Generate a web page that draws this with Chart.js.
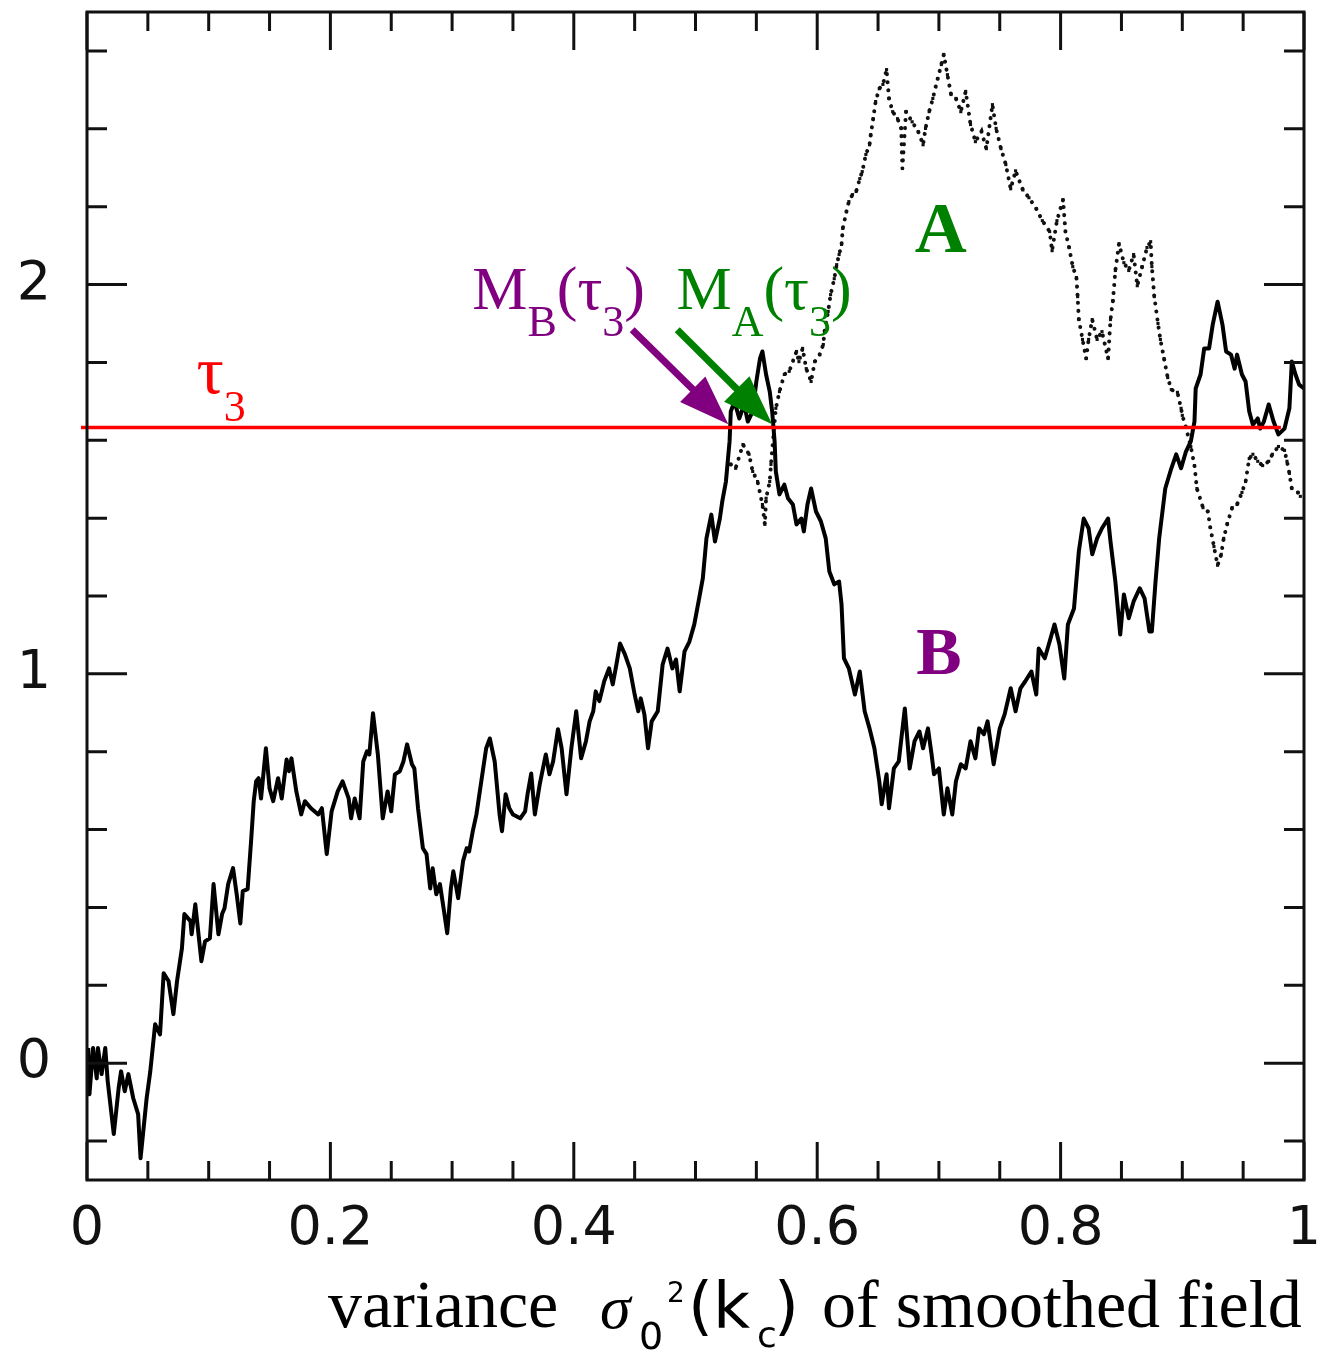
<!DOCTYPE html>
<html>
<head>
<meta charset="utf-8">
<script src="https://cdn.jsdelivr.net/npm/chart.js@4.4.1/dist/chart.umd.min.js"></script>
<style>
  html, body { margin: 0; padding: 0; background: #fff; }
</style>
</head>
<body>
<canvas id="chart" width="1334" height="1351"></canvas>
<script>
// trajectory B (solid) as [variance, value]
const seriesB = [
  [0.001,0.039],[0.002,-0.080],[0.005,0.039],[0.008,-0.039],[0.009,0.039],[0.012,-0.028],[0.015,0.039],
  [0.017,-0.046],[0.022,-0.182],[0.026,-0.064],[0.028,-0.021],[0.031,-0.072],[0.034,-0.028],[0.038,-0.090],
  [0.042,-0.131],[0.044,-0.244],[0.049,-0.090],[0.052,-0.021],[0.056,0.100],[0.060,0.074],[0.063,0.231],
  [0.067,0.211],[0.071,0.126],[0.074,0.211],[0.078,0.295],[0.080,0.383],[0.085,0.365],[0.086,0.331],
  [0.089,0.408],[0.094,0.262],[0.097,0.313],[0.101,0.321],[0.104,0.460],[0.108,0.331],[0.111,0.383],
  [0.113,0.398],[0.116,0.460],[0.120,0.501],[0.123,0.434],[0.126,0.359],[0.128,0.442],[0.132,0.447],
  [0.135,0.578],[0.137,0.673],[0.139,0.724],[0.141,0.732],[0.143,0.680],[0.147,0.809],[0.150,0.706],
  [0.153,0.673],[0.157,0.732],[0.160,0.680],[0.164,0.780],[0.166,0.750],[0.168,0.783],[0.172,0.698],
  [0.176,0.639],[0.179,0.673],[0.184,0.655],[0.190,0.639],[0.193,0.655],[0.197,0.537],[0.201,0.647],
  [0.206,0.698],[0.210,0.724],[0.215,0.680],[0.217,0.629],[0.220,0.680],[0.224,0.629],[0.227,0.775],
  [0.230,0.801],[0.232,0.793],[0.235,0.899],[0.239,0.793],[0.243,0.629],[0.247,0.698],[0.250,0.647],
  [0.253,0.742],[0.257,0.750],[0.260,0.775],[0.263,0.819],[0.267,0.768],[0.269,0.757],[0.272,0.655],
  [0.276,0.552],[0.279,0.537],[0.282,0.449],[0.284,0.501],[0.287,0.434],[0.290,0.460],[0.293,0.398],
  [0.296,0.334],[0.299,0.449],[0.301,0.493],[0.305,0.424],[0.309,0.519],[0.312,0.552],[0.314,0.544],
  [0.317,0.596],[0.320,0.639],[0.324,0.724],[0.328,0.809],[0.331,0.834],[0.335,0.775],[0.339,0.639],
  [0.341,0.596],[0.344,0.691],[0.347,0.655],[0.350,0.639],[0.356,0.629],[0.360,0.647],[0.362,0.691],
  [0.365,0.744],[0.368,0.639],[0.372,0.716],[0.377,0.793],[0.380,0.742],[0.383,0.775],[0.387,0.858],
  [0.390,0.809],[0.394,0.691],[0.398,0.809],[0.402,0.904],[0.406,0.783],[0.410,0.827],[0.413,0.878],
  [0.416,0.904],[0.418,0.955],[0.421,0.930],[0.425,0.981],[0.429,1.014],[0.432,0.973],[0.435,1.024],
  [0.438,1.078],[0.442,1.050],[0.446,1.014],[0.450,0.947],[0.453,0.904],[0.455,0.937],[0.458,0.896],
  [0.461,0.809],[0.464,0.878],[0.469,0.904],[0.473,1.024],[0.477,1.065],[0.481,1.014],[0.484,1.037],
  [0.487,0.955],[0.491,1.058],[0.495,1.083],[0.499,1.127],[0.503,1.194],[0.506,1.245],[0.509,1.348],
  [0.513,1.409],[0.516,1.340],[0.520,1.399],[0.522,1.443],[0.525,1.494],[0.528,1.597],[0.529,1.674],
  [0.532,1.700],[0.536,1.656],[0.540,1.692],[0.543,1.648],[0.547,1.674],[0.550,1.751],[0.553,1.810],
  [0.555,1.828],[0.558,1.769],[0.561,1.725],[0.563,1.674],[0.565,1.597],[0.566,1.520],[0.569,1.461],
  [0.573,1.486],[0.576,1.451],[0.580,1.435],[0.583,1.384],[0.587,1.399],[0.589,1.366],[0.592,1.435],
  [0.595,1.476],[0.599,1.417],[0.603,1.392],[0.607,1.348],[0.610,1.263],[0.614,1.230],[0.618,1.237],
  [0.620,1.178],[0.622,1.040],[0.626,1.014],[0.631,0.947],[0.635,1.006],[0.639,0.904],[0.643,0.860],
  [0.647,0.809],[0.651,0.724],[0.653,0.665],[0.657,0.742],[0.659,0.655],[0.663,0.757],[0.667,0.775],
  [0.672,0.911],[0.676,0.757],[0.680,0.827],[0.684,0.852],[0.687,0.809],[0.691,0.860],[0.694,0.793],
  [0.696,0.742],[0.700,0.757],[0.704,0.639],[0.707,0.706],[0.711,0.639],[0.714,0.724],[0.718,0.768],
  [0.722,0.757],[0.726,0.827],[0.730,0.783],[0.733,0.860],[0.737,0.845],[0.740,0.878],[0.745,0.768],
  [0.750,0.860],[0.754,0.896],[0.759,0.963],[0.763,0.904],[0.767,0.963],[0.771,0.981],[0.776,1.006],
  [0.780,0.947],[0.782,1.065],[0.787,1.040],[0.791,1.083],[0.795,1.127],[0.799,1.076],[0.803,0.988],
  [0.806,1.127],[0.811,1.168],[0.815,1.315],[0.819,1.399],[0.823,1.374],[0.826,1.307],[0.830,1.348],
  [0.834,1.374],[0.839,1.399],[0.841,1.340],[0.845,1.237],[0.849,1.101],[0.852,1.204],[0.856,1.143],
  [0.860,1.186],[0.865,1.220],[0.869,1.194],[0.873,1.109],[0.875,1.109],[0.878,1.237],[0.881,1.348],
  [0.886,1.476],[0.891,1.528],[0.895,1.564],[0.899,1.528],[0.903,1.571],[0.907,1.597],[0.910,1.648],
  [0.911,1.733],[0.915,1.769],[0.918,1.836],[0.922,1.836],[0.925,1.897],[0.929,1.956],[0.933,1.897],
  [0.936,1.828],[0.940,1.820],[0.943,1.784],[0.945,1.820],[0.949,1.769],[0.952,1.751],[0.955,1.674],
  [0.958,1.640],[0.962,1.656],[0.964,1.630],[0.967,1.648],[0.971,1.692],[0.975,1.648],[0.979,1.615],
  [0.984,1.630],[0.988,1.682],[0.990,1.802],[0.993,1.769],[0.996,1.743],[1.000,1.733]
];

// trajectory A (dotted), splits off from B near 0.53
const seriesA = [
  [0.529,1.538],[0.533,1.528],[0.539,1.589],[0.544,1.564],[0.547,1.520],[0.551,1.494],[0.555,1.435],
  [0.557,1.384],[0.558,1.451],[0.561,1.494],[0.562,1.538],[0.566,1.682],[0.569,1.725],[0.573,1.769],
  [0.577,1.777],[0.583,1.828],[0.585,1.802],[0.588,1.836],[0.591,1.784],[0.595,1.751],[0.598,1.802],
  [0.602,1.820],[0.605,1.846],[0.606,1.879],[0.609,1.931],[0.611,1.974],[0.614,2.015],[0.616,2.051],
  [0.618,2.077],[0.620,2.103],[0.621,2.144],[0.624,2.187],[0.626,2.213],[0.629,2.231],[0.632,2.239],
  [0.635,2.272],[0.637,2.290],[0.640,2.334],[0.643,2.359],[0.644,2.385],[0.646,2.426],[0.648,2.470],
  [0.651,2.503],[0.654,2.514],[0.657,2.552],[0.659,2.478],[0.662,2.444],[0.666,2.426],[0.669,2.401],
  [0.670,2.298],[0.673,2.444],[0.678,2.418],[0.683,2.393],[0.687,2.359],[0.689,2.401],[0.692,2.444],
  [0.695,2.478],[0.699,2.529],[0.702,2.565],[0.704,2.591],[0.707,2.539],[0.710,2.488],[0.714,2.478],
  [0.718,2.444],[0.722,2.496],[0.726,2.411],[0.730,2.367],[0.735,2.393],[0.739,2.349],[0.744,2.462],
  [0.747,2.401],[0.751,2.349],[0.755,2.308],[0.759,2.246],[0.763,2.292],[0.769,2.243],[0.774,2.223],
  [0.780,2.195],[0.785,2.164],[0.791,2.136],[0.793,2.087],[0.797,2.164],[0.802,2.218],[0.804,2.136],
  [0.807,2.095],[0.810,2.046],[0.813,2.018],[0.814,1.969],[0.815,1.910],[0.818,1.859],[0.821,1.810],
  [0.823,1.859],[0.826,1.910],[0.830,1.859],[0.834,1.879],[0.839,1.810],[0.841,1.910],[0.843,1.959],
  [0.845,2.036],[0.848,2.105],[0.852,2.056],[0.856,2.036],[0.860,2.077],[0.863,1.997],[0.867,2.046],
  [0.871,2.095],[0.874,2.110],[0.875,2.046],[0.877,1.969],[0.880,1.900],[0.882,1.859],[0.885,1.810],
  [0.888,1.761],[0.891,1.730],[0.896,1.723],[0.899,1.682],[0.900,1.664],[0.903,1.633],[0.907,1.584],
  [0.910,1.535],[0.912,1.476],[0.917,1.427],[0.921,1.417],[0.923,1.376],[0.926,1.327],[0.929,1.279],
  [0.932,1.307],[0.934,1.348],[0.937,1.386],[0.941,1.427],[0.945,1.435],[0.949,1.466],[0.952,1.494],
  [0.955,1.553],[0.958,1.564],[0.962,1.546],[0.966,1.535],[0.971,1.546],[0.974,1.564],[0.979,1.584],
  [0.984,1.574],[0.986,1.546],[0.988,1.515],[0.990,1.476],[0.995,1.466],[0.997,1.456]
];

// threshold tau_3 and where its line stops
const tau3 = 1.633;
const tauLine = [-0.005, 0.981];

// axis ticks
const xTicks = [0, 0.2, 0.4, 0.6, 0.8, 1];
const xMinor = [0.05, 0.1, 0.15, 0.25, 0.3, 0.35, 0.45, 0.5, 0.55, 0.65, 0.7, 0.75, 0.85, 0.9, 0.95];
const yTicks = [0, 1, 2];
const yMinor = [-0.2, 0.2, 0.4, 0.6, 0.8, 1.2, 1.4, 1.6, 1.8, 2.2, 2.4, 2.6];

const SERIF = '"Liberation Serif", "DejaVu Serif", serif';
const SANS = '"DejaVu Sans", sans-serif';
const PURPLE = '#800080';
const GREEN = '#008000';
const RED = '#ff0000';

// labels and arrows, anchored in data units
const notes = {
  tau: { x: 0.090, y: 1.721, color: RED, parts: [
    { t: 'τ', font: `68px ${SERIF}` }, { t: '3', font: `44px ${SERIF}`, dy: 28 } ] },
  mB: { x: 0.3166, y: 1.937, color: PURPLE, parts: [
    { t: 'M', font: `62px ${SERIF}` }, { t: 'B', font: `44px ${SERIF}`, dy: 27 },
    { t: '(τ', font: `62px ${SERIF}` }, { t: '3', font: `44px ${SERIF}`, dy: 27 },
    { t: ')', font: `62px ${SERIF}` } ] },
  mA: { x: 0.4844, y: 1.937, color: GREEN, parts: [
    { t: 'M', font: `62px ${SERIF}` }, { t: 'A', font: `44px ${SERIF}`, dy: 27 },
    { t: '(τ', font: `62px ${SERIF}` }, { t: '3', font: `44px ${SERIF}`, dy: 27 },
    { t: ')', font: `62px ${SERIF}` } ] }
};
const letters = [
  { t: 'A', x: 0.7015, y: 2.083, color: GREEN, font: `bold 72px ${SERIF}` },
  { t: 'B', x: 0.700, y: 1.000, color: PURPLE, font: `bold 68px ${SERIF}` }
];
const arrows = [
  { from: [0.448, 1.884], to: [0.527, 1.641], color: PURPLE },
  { from: [0.485, 1.884], to: [0.563, 1.641], color: GREEN }
];

function drawRich(ctx, x, y, parts, color) {
  ctx.fillStyle = color;
  ctx.textAlign = 'left';
  ctx.textBaseline = 'alphabetic';
  for (const p of parts) {
    ctx.font = p.font;
    ctx.fillText(p.t, x, y + (p.dy || 0));
    x += ctx.measureText(p.t).width;
  }
}

const frameTicks = {
  id: 'frameTicks',
  afterDatasetsDraw(chart) {
    const { ctx, chartArea: a, scales: { x, y } } = chart;
    ctx.save();
    ctx.strokeStyle = '#111';
    ctx.lineWidth = 3;
    ctx.strokeRect(a.left, a.top, a.right - a.left, a.bottom - a.top);
    ctx.beginPath();
    const xt = (vals, len) => vals.forEach(v => {
      const p = x.getPixelForValue(v);
      ctx.moveTo(p, a.bottom); ctx.lineTo(p, a.bottom - len);
      ctx.moveTo(p, a.top); ctx.lineTo(p, a.top + len);
    });
    const yt = (vals, len) => vals.forEach(v => {
      const p = y.getPixelForValue(v);
      ctx.moveTo(a.left, p); ctx.lineTo(a.left + len, p);
      ctx.moveTo(a.right, p); ctx.lineTo(a.right - len, p);
    });
    xt(xTicks, 38); xt(xMinor, 19);
    yt(yTicks, 40); yt(yMinor, 20);
    ctx.stroke();
    ctx.restore();
  }
};

const annotate = {
  id: 'annotate',
  afterDraw(chart) {
    const { ctx, scales: { x, y } } = chart;
    ctx.save();
    Object.values(notes).forEach(n => {
      drawRich(ctx, x.getPixelForValue(n.x), y.getPixelForValue(n.y), n.parts, n.color);
    });
    letters.forEach(l => {
      ctx.font = l.font;
      ctx.fillStyle = l.color;
      ctx.textAlign = 'center';
      ctx.textBaseline = 'alphabetic';
      ctx.fillText(l.t, x.getPixelForValue(l.x), y.getPixelForValue(l.y));
    });
    arrows.forEach(ar => {
      const x0 = x.getPixelForValue(ar.from[0]), y0 = y.getPixelForValue(ar.from[1]);
      const x1 = x.getPixelForValue(ar.to[0]), y1 = y.getPixelForValue(ar.to[1]);
      const ang = Math.atan2(y1 - y0, x1 - x0);
      const head = 50, half = 18;
      const bx = x1 - head * Math.cos(ang), by = y1 - head * Math.sin(ang);
      ctx.strokeStyle = ar.color;
      ctx.fillStyle = ar.color;
      ctx.lineWidth = 7;
      ctx.beginPath();
      ctx.moveTo(x0, y0); ctx.lineTo(bx + 4 * Math.cos(ang), by + 4 * Math.sin(ang));
      ctx.stroke();
      ctx.beginPath();
      ctx.moveTo(x1, y1);
      ctx.lineTo(bx + half * Math.sin(ang), by - half * Math.cos(ang));
      ctx.lineTo(bx - half * Math.sin(ang), by + half * Math.cos(ang));
      ctx.closePath();
      ctx.fill();
    });

    // axis title: variance sigma_0^2(k_c) of smoothed field
    ctx.fillStyle = '#000';
    ctx.textAlign = 'left';
    ctx.textBaseline = 'alphabetic';
    const put = (t, font, px, py) => { ctx.font = font; ctx.fillText(t, px, py); };
    put('variance', `68px ${SERIF}`, 328, 1327);
    put('σ', `italic 62px ${SERIF}`, 600, 1328);
    put('0', `38px ${SANS}`, 639, 1349);
    put('2', `28px ${SANS}`, 667, 1302);
    put('(k', `64px ${SANS}`, 688, 1328);
    put('c', `36px ${SANS}`, 757, 1347);
    put(')', `64px ${SANS}`, 774, 1328);
    put('of smoothed field', `68px ${SERIF}`, 822, 1327);
    ctx.restore();
  }
};

const toPts = s => s.map(([vx, vy]) => ({ x: vx, y: vy }));

new Chart(document.getElementById('chart').getContext('2d'), {
  type: 'scatter',
  data: {
    datasets: [
      {
        label: 'tau3',
        data: tauLine.map(v => ({ x: v, y: tau3 })),
        showLine: true,
        borderColor: RED,
        borderWidth: 3.5,
        pointRadius: 0,
        clip: false,
        order: 0
      },
      {
        label: 'B',
        data: toPts(seriesB),
        showLine: true,
        borderColor: '#000',
        borderWidth: 4,
        borderJoinStyle: 'round',
        pointRadius: 0,
        order: 1
      },
      {
        label: 'A',
        data: toPts(seriesA),
        showLine: true,
        borderColor: '#111',
        borderWidth: 4,
        borderDash: [0.1, 8],
        borderCapStyle: 'round',
        pointRadius: 2.2,
        pointStyle: 'rect',
        pointBackgroundColor: '#111',
        pointBorderWidth: 0,
        order: 2
      }
    ]
  },
  options: {
    responsive: false,
    animation: false,
    devicePixelRatio: 1,
    events: [],
    layout: { padding: { top: 12, right: 30, left: 0, bottom: 0 } },
    plugins: { legend: { display: false }, tooltip: { enabled: false } },
    scales: {
      x: {
        type: 'linear',
        min: 0,
        max: 1,
        afterBuildTicks: s => { s.ticks = xTicks.map(v => ({ value: v })); },
        afterFit: s => { s.height = 171; s.paddingLeft = 0; s.paddingRight = 0; },
        grid: { display: false, drawTicks: false },
        border: { display: false },
        ticks: {
          padding: 18,
          maxRotation: 0,
          autoSkip: false,
          color: '#111',
          font: { family: 'DejaVu Sans', size: 54 },
          callback: v => String(+v.toFixed(1))
        }
      },
      y: {
        type: 'linear',
        min: -0.3,
        max: 2.7,
        afterBuildTicks: s => { s.ticks = yTicks.map(v => ({ value: v })); },
        afterFit: s => { s.width = 87; s.paddingTop = 0; s.paddingBottom = 0; },
        grid: { display: false, drawTicks: false },
        border: { display: false },
        ticks: {
          padding: 36,
          color: '#111',
          font: { family: 'DejaVu Sans', size: 54 },
          callback: v => String(v)
        }
      }
    }
  },
  plugins: [frameTicks, annotate]
});
</script>
</body>
</html>
